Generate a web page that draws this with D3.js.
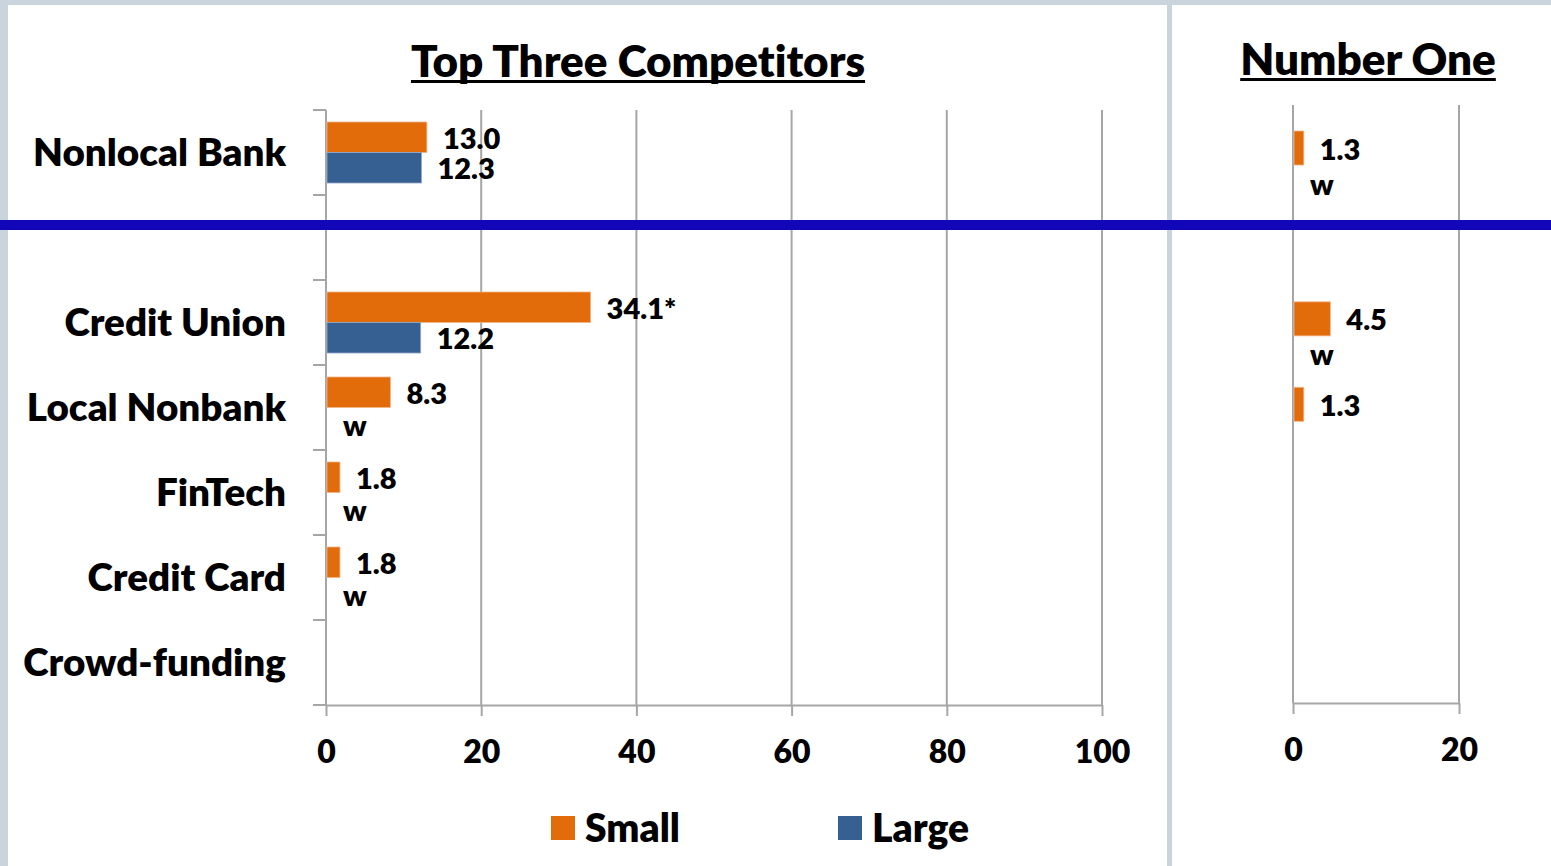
<!DOCTYPE html>
<html>
<head>
<meta charset="utf-8">
<script src="https://cdn.jsdelivr.net/npm/d3@7"></script>
<style>
  html, body { margin: 0; padding: 0; background: #c9d4dc; }
  svg { display: block; font-family: Lato, "Open Sans", sans-serif; font-weight: 800; font-variant-ligatures: none; }
</style>
</head>
<body>
<svg id="chart" width="1551" height="866"></svg>
<script>
// Categories (the blank slot separates the nonlocal bank row from the local rows)
const categories = ["Nonlocal Bank", "", "Credit Union", "Local Nonbank", "FinTech", "Credit Card", "Crowd-funding"];
const series = ["Small", "Large"];

// Top three competitors, percent of respondents
const topSmall = [13.0, null, 34.1, 8.3, 1.8, 1.8, null];
const topLarge = [12.3, null, 12.2, 0, 0, 0, null];
const topSmallLabels = ["13.0", "", "34.1*", "8.3", "1.8", "1.8", ""];
const topLargeLabels = ["12.3", "", "12.2", "w", "w", "w", ""];

// Number one competitor, percent of respondents
const oneSmall = [1.3, null, 4.5, 1.3, null, null, null];
const oneLarge = [0, null, 0, null, null, null, null];
const oneSmallLabels = ["1.3", "", "4.5", "1.3", "", "", ""];
const oneLargeLabels = ["w", "", "w", "", "", "", ""];

const topTicks = [0, 20, 40, 60, 80, 100];
const oneTicks = [0, 20];

const colors = { Small: "#e36c0a", Large: "#376092" };
const gridColor = "#a6a6a6";
const W = 800;

const svg = d3.select("#chart");

// Panel backgrounds
svg.append("rect").attr("x", 8).attr("y", 5).attr("width", 1159).attr("height", 861).attr("fill", "#fff");
svg.append("rect").attr("x", 1172).attr("y", 5).attr("width", 379).attr("height", 861).attr("fill", "#fff");

function drawPanel(cfg) {
  const g = svg.append("g");
  const x = d3.scaleLinear().domain(cfg.domain).range([cfg.x0, cfg.x1]);
  const y = d3.scaleBand().domain(d3.range(categories.length)).range([cfg.y0, cfg.y1]).padding(0);
  const s = d3.scaleBand().domain(series).range(cfg.seriesRange).paddingInner(cfg.seriesPad);

  // vertical gridlines
  g.append("g").selectAll("line").data(cfg.ticks.slice(1)).join("line")
    .attr("x1", d => x(d)).attr("x2", d => x(d))
    .attr("y1", cfg.y0).attr("y2", cfg.y1)
    .attr("stroke", gridColor).attr("stroke-width", 2);

  // bottom axis
  const xAxis = d3.axisBottom(x).tickValues(cfg.ticks).tickSize(11).tickPadding(24).tickSizeOuter(0);
  const ax = g.append("g").attr("transform", `translate(0,${cfg.y1})`).call(xAxis);
  ax.select(".domain").attr("stroke", gridColor).attr("stroke-width", 2);
  ax.selectAll(".tick line").attr("stroke", gridColor).attr("stroke-width", 2);
  ax.selectAll(".tick text").attr("fill", "#000").attr("font-size", 32).attr("font-weight", W)
    .attr("font-family", "Lato, sans-serif");

  // left axis line
  g.append("line").attr("x1", x(0)).attr("x2", x(0)).attr("y1", cfg.y0).attr("y2", cfg.y1)
    .attr("stroke", gridColor).attr("stroke-width", 2);

  if (cfg.catTicks) {
    const bounds = d3.range(categories.length + 1).map(i => cfg.y0 + i * y.step());
    g.append("g").selectAll("line").data(bounds).join("line")
      .attr("x1", x(0) - 13).attr("x2", x(0)).attr("y1", d => d).attr("y2", d => d)
      .attr("stroke", gridColor).attr("stroke-width", 2);
  }

  // bars and labels
  const rows = [];
  categories.forEach((c, i) => {
    rows.push({ i, key: "Small", v: cfg.small[i], label: cfg.smallLabels[i] });
    rows.push({ i, key: "Large", v: cfg.large[i], label: cfg.largeLabels[i] });
  });
  const bars = rows.filter(r => r.v != null && r.v > 0);
  g.append("g").selectAll("rect").data(bars).join("rect")
    .attr("x", x(0) + 1)
    .attr("y", d => y(d.i) + s(d.key))
    .attr("width", d => x(d.v) - x(0) - 1)
    .attr("height", s.bandwidth())
    .attr("fill", d => colors[d.key])
    .attr("stroke", d => d.key === "Small" ? "#f2b48a" : "#8fa9c8")
    .attr("stroke-width", 0.8);

  const labels = rows.filter(r => r.label);
  g.append("g").selectAll("text").data(labels).join("text")
    .attr("x", d => x(d.v || 0) + (d.v ? 16 : 17))
    .attr("y", d => y(d.i) + s(d.key) + s.bandwidth() / 2 + (d.label === "w" ? cfg.wShift : 0))
    .attr("dy", "0.4em")
    .attr("font-size", 29)
    .attr("fill", "#000")
    .text(d => d.label);

  // title
  const t = g.append("text").attr("x", cfg.titleX).attr("y", cfg.titleY)
    .attr("text-anchor", "middle").attr("font-size", cfg.titleSize).attr("fill", "#000").text(cfg.title);
  const bb = t.node().getBBox();
  g.append("rect").attr("x", bb.x).attr("y", cfg.titleY + 3).attr("width", bb.width).attr("height", 3).attr("fill", "#000");

  return { x, y };
}

const left = drawPanel({
  domain: [0, 100], x0: 326, x1: 1102, y0: 110, y1: 705,
  ticks: topTicks, seriesRange: [12, 73], seriesPad: 0, catTicks: true,
  small: topSmall, large: topLarge, smallLabels: topSmallLabels, largeLabels: topLargeLabels,
  title: "Top Three Competitors", titleX: 638, titleY: 77, titleSize: 44, wShift: 2
});

drawPanel({
  domain: [0, 20], x0: 1293, x1: 1459, y0: 105, y1: 703,
  ticks: oneTicks, seriesRange: [26, 97], seriesPad: 0.08, catTicks: false,
  small: oneSmall, large: oneLarge, smallLabels: oneSmallLabels, largeLabels: oneLargeLabels,
  title: "Number One", titleX: 1368, titleY: 75, titleSize: 44, wShift: -2
});

// category labels
svg.append("g").selectAll("text").data(categories).join("text")
  .attr("x", 286)
  .attr("y", (d, i) => left.y(i) + left.y.bandwidth() / 2)
  .attr("dy", "0.36em")
  .attr("text-anchor", "end")
  .attr("font-size", 38.6)
  .attr("fill", "#000")
  .text(d => d);

// legend
const legend = svg.append("g").selectAll("g").data(series).join("g")
  .attr("transform", (d, i) => `translate(${551 + i * 287},816)`);
legend.append("rect").attr("width", 24).attr("height", 24).attr("fill", d => colors[d]);
legend.append("text").attr("x", 34).attr("y", 12).attr("dy", "0.36em")
  .attr("font-size", 39).attr("fill", "#000").text(d => d);

// frame strips and divider between the nonlocal and local groups
svg.append("rect").attr("x", 1167).attr("y", 0).attr("width", 5).attr("height", 866).attr("fill", "#c9d4dc");
svg.append("rect").attr("x", 0).attr("y", 220).attr("width", 1551).attr("height", 10).attr("fill", "#1207b8");
</script>
</body>
</html>
